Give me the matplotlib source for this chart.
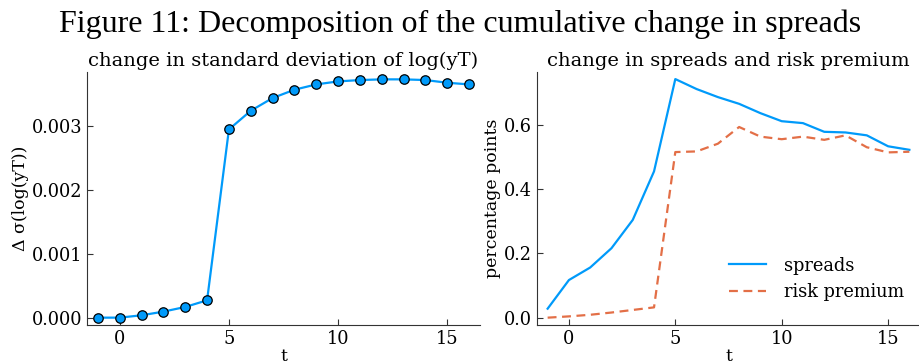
import numpy as np
from matplotlib import pyplot as plt

t = np.arange(-1, 17)

# change in std of log(yT)
dsigma = [0.0, 0.0, 0.000037, 0.000094, 0.000167, 0.000271, 0.002942, 0.003234,
          0.003433, 0.003563, 0.003646, 0.003693, 0.003714, 0.003725, 0.003725,
          0.003714, 0.003672, 0.003646]

spreads = [0.028, 0.117, 0.156, 0.216, 0.304, 0.455, 0.742, 0.711, 0.686, 0.665,
           0.636, 0.611, 0.605, 0.578, 0.576, 0.567, 0.533, 0.522]
risk_premium = [0.0, 0.004, 0.009, 0.016, 0.024, 0.032, 0.515, 0.517, 0.541, 0.593,
                0.563, 0.555, 0.563, 0.553, 0.567, 0.530, 0.514, 0.516]

blue = '#009AFA'
orange = '#E36F47'

plt.rcParams['font.family'] = 'DejaVu Serif'
plt.rcParams['font.size'] = 12.5


def style_ax(ax):
    for s in ['top', 'right']:
        ax.spines[s].set_visible(False)
    for s in ['left', 'bottom']:
        ax.spines[s].set_color('#333333')
    ax.tick_params(direction='in', length=4, width=0.8, labelsize=12.8, color='#333333')
    ax.set_xlim(-1.5, 16.5)
    ax.set_xticks([0, 5, 10, 15])


fig = plt.figure(figsize=(9.2, 3.64), dpi=100)
ax1 = fig.add_axes([87/920, 1-325/364, (480-87)/920, (325-72)/364])
ax2 = fig.add_axes([537/920, 1-325/364, (920-537)/920, (325-72)/364])

ax1.plot(t, dsigma, color=blue, lw=1.6, marker='o', ms=6.8, mfc=blue, mec='black', mew=0.9)
style_ax(ax1)
ax1.set_ylim(-0.000115, 0.00384)
ax1.set_yticks([0, 0.001, 0.002, 0.003])
ax1.set_yticklabels(['0.000', '0.001', '0.002', '0.003'])
ax1.set_xlabel('t', labelpad=0)
ax1.set_ylabel('Δ σ(log(yT))', labelpad=2)
ax1.set_title('change in standard deviation of log(yT)', fontsize=14, pad=4)

ax2.plot(t, spreads, color=blue, lw=1.6, label='spreads')
ax2.plot(t, risk_premium, color=orange, lw=1.6, ls=(0, (4, 2.5)), label='risk premium')
style_ax(ax2)
ax2.set_ylim(-0.0228, 0.764)
ax2.set_yticks([0, 0.2, 0.4, 0.6])
ax2.set_xlabel('t', labelpad=0)
ax2.set_ylabel('percentage points', labelpad=2)
ax2.set_title('change in spreads and risk premium', fontsize=14, pad=4)
ax2.legend(loc='lower right', frameon=False, fontsize=12.8, handlelength=2.1,
           handletextpad=1.0, bbox_to_anchor=(1.0, 0.03))

fig.suptitle('Figure 11: Decomposition of the cumulative change in spreads',
             family='Liberation Serif', fontsize=23, y=0.975)

fig.savefig('out.png', dpi=100)
